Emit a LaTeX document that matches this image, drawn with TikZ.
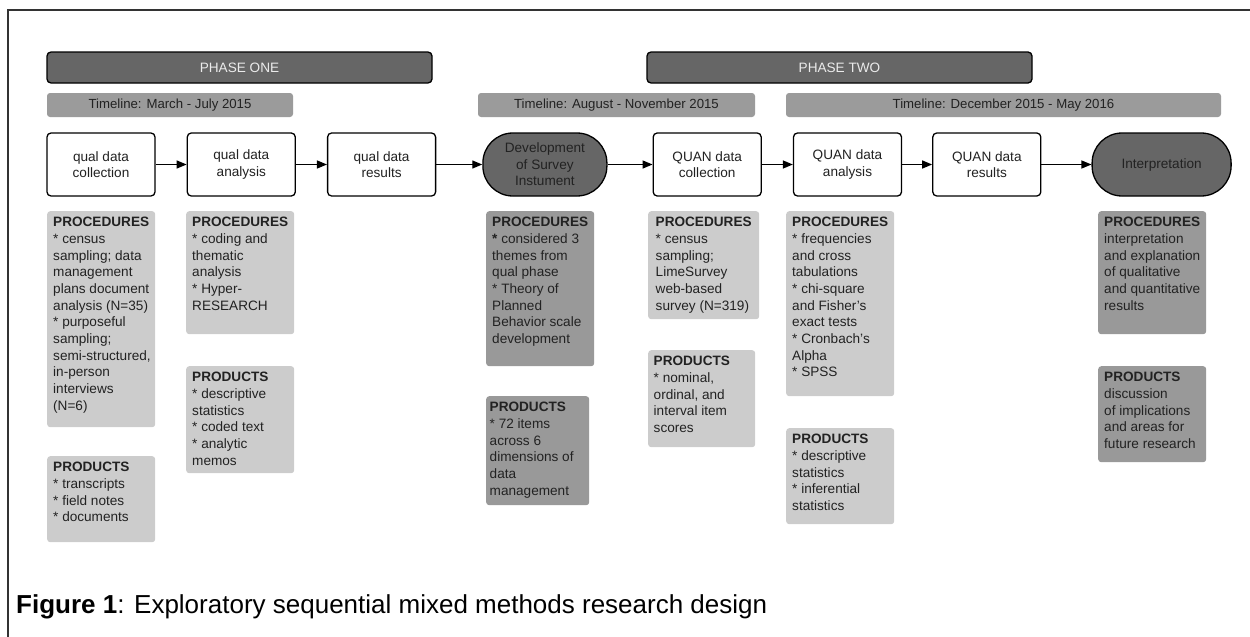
\documentclass[tikz,border=0pt]{standalone}
\usepackage{fontspec}
\setmainfont{Liberation Sans}
\usetikzlibrary{positioning,arrows.meta}
\definecolor{phasegray}{HTML}{666666}
\definecolor{timegray}{HTML}{9B9B9B}
\definecolor{panellight}{HTML}{CCCCCC}
\definecolor{paneldark}{HTML}{999999}
\definecolor{inkgray}{HTML}{222222}
\newcommand{\panelbody}[2]{\parbox[t][\dimexpr#1pt-12pt\relax][t]{96pt}{#2}}

\begin{document}
\begin{tikzpicture}[x=1pt, y=-1pt, node distance=31pt,
  stepbox/.style={draw, line width=1.3pt, rounded corners=4pt, fill=white, text=inkgray, minimum width=108pt, minimum height=63pt, align=center, font=\fontsize{13.6}{16.5}\selectfont},
  keybox/.style={stepbox, fill=phasegray, rounded corners=30pt},
  phasebar/.style={draw, line width=1.3pt, rounded corners=4pt, fill=phasegray, text=white!92!black, minimum width=385pt, minimum height=31pt, font=\fontsize{13.6}{16}\selectfont},
  timebar/.style={fill=timegray, rounded corners=3pt, text=inkgray, minimum height=24pt, font=\fontsize{13.2}{16}\selectfont},
  panel/.style={anchor=north west, rounded corners=3pt, inner xsep=0pt, inner ysep=6pt, minimum width=108pt, text=inkgray, font=\fontsize{13.6}{16.7}\selectfont},
  lightpanel/.style={panel, fill=panellight},
  darkpanel/.style={panel, fill=paneldark},
  flow/.style={-{Triangle[length=10pt,width=8pt]}, line width=1.3pt}]
\useasboundingbox (0,0) rectangle (1250,637);
\draw[line width=1.2pt, black!80] (8,637) -- (8,10) -- (1250,10);

% phases and timelines
\node[phasebar] (phaseone) at (239.5,67.5) {PHASE ONE};
\node[phasebar] (phasetwo) at (839.5,67.5) {PHASE TWO};
\node[timebar, minimum width=246pt] (timeone) at (170,105) {Timeline: March - July 2015};
\node[timebar, minimum width=277pt] (timetwo) at (616.5,105) {Timeline: August - November 2015};
\node[timebar, minimum width=435pt] (timethree) at (1003.5,105) {Timeline: December 2015 - May 2016};

% steps
\node[stepbox] (qualcoll) at (101,164.5) {qual data\\collection};
\node[stepbox, right=of qualcoll] (qualanal) {qual data\\analysis};
\node[stepbox, right=of qualanal] (qualres) {qual data\\results};
\node[keybox, minimum width=124pt, right=46pt of qualres] (survey) {Development\\of Survey\\Instument};
\node[stepbox, right=45pt of survey] (quancoll) {QUAN data\\collection};
\node[stepbox, right=of quancoll] (quananal) {QUAN data\\analysis};
\node[stepbox, right=30pt of quananal] (quanres) {QUAN data\\results};
\node[keybox, minimum width=139pt, right=50pt of quanres] (interp) {Interpretation};

\draw[flow] (qualcoll) -- (qualanal);
\draw[flow] (qualanal) -- (qualres);
\draw[flow] (qualres) -- (survey);
\draw[flow] (survey) -- (quancoll);
\draw[flow] (quancoll) -- (quananal);
\draw[flow] (quananal) -- (quanres);
\draw[flow] (quanres) -- (interp);

% procedures and products
\node[lightpanel] (qualcollproc) at (47,211) {\panelbody{216}{\textbf{PROCEDURES}\\{*} census\\sampling; data\\management\\plans document\\analysis (N=35)\\{*} purposeful\\sampling;\\\mbox{semi-structured,}\\in-person\\interviews\\(N=6)}};
\node[lightpanel] (qualcollprod) at (47,456) {\panelbody{86}{\textbf{PRODUCTS}\\{*} transcripts\\{*} field notes\\{*} documents}};
\node[lightpanel] (qualanalproc) at (186,211) {\panelbody{123}{\textbf{PROCEDURES}\\{*} coding and\\thematic\\analysis\\{*} Hyper-\\RESEARCH}};
\node[lightpanel] (qualanalprod) at (186,366) {\panelbody{107}{\textbf{PRODUCTS}\\{*} descriptive\\statistics\\{*} coded text\\{*} analytic\\memos}};
\node[darkpanel] (surveyproc) at (486,211) {\panelbody{155}{\textbf{PROCEDURES}\\\textbf{*} considered 3\\themes from\\qual phase\\{*} Theory of\\Planned\\Behavior scale\\development}};
\node[darkpanel, minimum width=103pt] (surveyprod) at (486,396) {\panelbody{109}{\textbf{PRODUCTS}\\{*} 72 items\\across 6\\dimensions of\\data\\management}};
\node[lightpanel, minimum width=111pt] (quancollproc) at (648,211) {\panelbody{108}{\textbf{PROCEDURES}\\{*} census\\sampling;\\LimeSurvey\\web-based\\survey (N=319)}};
\node[lightpanel, minimum width=107pt] (quancollprod) at (648,350) {\panelbody{97}{\textbf{PRODUCTS}\\{*} nominal,\\ordinal, and\\interval item\\scores}};
\node[lightpanel] (quananalproc) at (786,211) {\panelbody{185}{\textbf{PROCEDURES}\\{*} frequencies\\and cross\\tabulations\\{*} chi-square\\and Fisher's\\exact tests\\{*} Cronbach's\\Alpha\\{*} SPSS}};
\node[lightpanel] (quananalprod) at (786,428) {\panelbody{96}{\textbf{PRODUCTS}\\{*} descriptive\\statistics\\{*} inferential\\statistics}};
\node[darkpanel] (interpproc) at (1098,211) {\panelbody{123}{\textbf{PROCEDURES}\\interpretation\\and explanation\\of qualitative\\and quantitative\\results}};
\node[darkpanel] (interpprod) at (1098,366) {\panelbody{96}{\textbf{PRODUCTS}\\discussion\\of implications\\and areas for\\future research}};

\node[anchor=base west, inner sep=0pt, font=\fontsize{26}{30}\selectfont] (caption) at (16,613) {\textbf{Figure 1}: Exploratory sequential mixed methods research design};
\end{tikzpicture}
\end{document}
